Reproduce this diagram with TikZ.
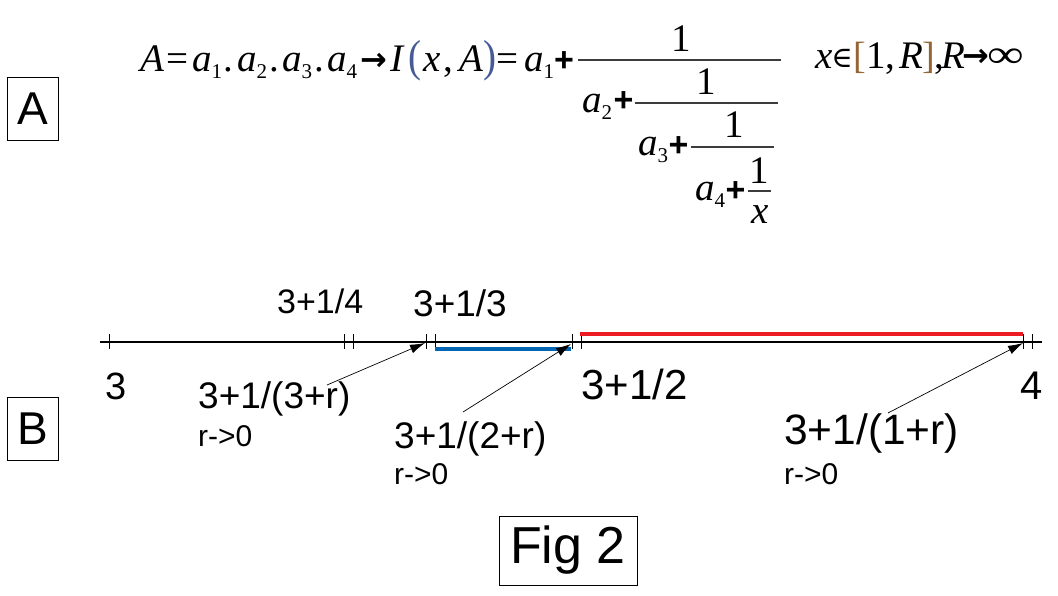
\documentclass[tikz,border=0pt]{standalone}
\usepackage{fontspec}
\usepackage{graphicx}
\setmainfont{Liberation Sans}
\newfontfamily\eqf{Liberation Serif}
\newfontfamily\symf{DejaVu Sans}
\newfontfamily\symserif{DejaVu Serif}
\usetikzlibrary{arrows.meta}
\definecolor{nlred}{RGB}{237,28,36}
\definecolor{nlblue}{RGB}{0,102,179}
\definecolor{parcol}{RGB}{70,90,150}
\definecolor{brkcol}{RGB}{150,100,50}
\definecolor{barcol}{RGB}{60,60,60}
\newcommand{\fsz}[1]{\fontsize{#1}{#1}\selectfont}
\newcommand{\asub}[1]{{\itshape a}\raisebox{-7pt}{\fsz{21}#1}}
\begin{document}
\begin{tikzpicture}[x=1pt,y=-1pt,
  eq/.style={inner sep=0pt, anchor=base west, font={\eqf\fsz{39}}},
  eqc/.style={inner sep=0pt, anchor=base, font={\eqf\fsz{39}}},
  paren/.style={inner sep=0pt, anchor=base west, font={\eqf\fsz{39}}, text=parcol},
  brk/.style={inner sep=0pt, anchor=base west, font={\eqf\fsz{38}}, text=brkcol},
  op/.style={inner sep=0pt, anchor=center, font={\fsz{34}\bfseries}},
  arr/.style={inner sep=0pt, anchor=center, font={\symf\bfseries\fsz{32}}},
  elem/.style={inner sep=0pt, anchor=center, font={\symserif\fsz{29}}},
  fbar/.style={draw=barcol, line width=1.3pt},
  boxlab/.style={draw, line width=0.9pt, inner sep=0pt, font={\fsz{46}}, minimum width=51pt, minimum height=63pt},
  lab/.style={inner sep=0pt, anchor=base west},
  nl/.style={line width=1.2pt},
  tickm/.style={line width=0.9pt},
  seg/.style={line width=3.2pt},
  pointer/.style={line width=0.7pt, -{Latex[length=15pt,width=9pt]}}
]
\useasboundingbox (0,0) rectangle (1058,595);

% boxes
\node[boxlab] (boxA) at (32.5,108.5) {A};
\node[boxlab] (boxB) at (32.5,428.5) {B};
\node[draw, line width=0.9pt, inner sep=0pt, minimum width=138pt, minimum height=69pt, font={\fsz{52}}] (fig) at (568,550.5) {Fig 2};

% equation, main line
\node[eq] (eA) at (140,71) {\itshape A};
\node[eq] (eq1) at (166,71) {=};
\node[eq] (ea1) at (192,71) {\asub{1}};
\node[eq] (d1) at (223,71) {.};
\node[eq] (ea2) at (237,71) {\asub{2}};
\node[eq] (d2) at (269,71) {.};
\node[eq] (ea3) at (282,71) {\asub{3}};
\node[eq] (d3) at (314,71) {.};
\node[eq] (ea4) at (327,71) {\asub{4}};
\node[arr] (ar1) at (373.5,62) {\makebox[22pt]{→}};
\node[eq] (eI) at (390,71) {\itshape I};
\node[paren] (lp) at (408,71) {\scalebox{1}[1.15]{(}};
\node[eq] (ex) at (423,71) {\itshape x};
\node[eq] (cm1) at (443,71) {,};
\node[eq] (eA2) at (459,71) {\itshape A};
\node[paren] (rp) at (483,71) {\scalebox{1}[1.15]{)}};
\node[eq] (eq2) at (496,71) {=};
\node[eq] (eb1) at (524,71) {\asub{1}};
\node[op] (p1) at (564,62) {+};

% continued fraction
\draw[fbar] (578,60) -- (781,60);
\node[eqc] (n1) at (681.5,51) {1};
\node[eq] (fa2) at (582,112) {\asub{2}};
\node[op] (p2) at (623.5,102) {+};
\draw[fbar] (635,103) -- (778,103);
\node[eqc] (n2) at (706.5,94) {1};
\node[eq] (fa3) at (638,155) {\asub{3}};
\node[op] (p3) at (678.5,147) {+};
\draw[fbar] (691,147) -- (774,147);
\node[eqc] (n3) at (734,137) {1};
\node[eq] (fa4) at (695,200) {\asub{4}};
\node[op] (p4) at (735.5,192) {+};
\draw[fbar] (748,191) -- (771,191);
\node[eqc] (n4) at (759,183) {1};
\node[eqc] (dx) at (760.5,223) {\itshape x};

% right part
\node[eq] (rx) at (815,68) {\itshape x};
\node[elem] (in) at (842,58) {\makebox[15pt]{∈}};
\node[brk] (lb) at (853,68) {[};
\node[eq] (r1) at (866,68) {1};
\node[eq] (cm2) at (885,68) {,};
\node[eq] (rR1) at (899,68) {\itshape R};
\node[brk] (rb) at (922,68) {]};
\node[eq] (cm3) at (934.5,68) {,};
\node[eq] (rR2) at (941,68) {\itshape R};
\node[arr] (ar2) at (976,58) {\makebox[22pt]{→}};
\node[inner sep=0pt, anchor=center, font={\eqf\fsz{39}}] (inf) at (1006,58.5) {\scalebox{1.32}[1]{∞}};

% number line
\draw[nl] (100,342) -- (1042,342);
\foreach \t in {109,344,353,426,435,572,581,1023,1032}
  \draw[tickm] (\t,334) -- (\t,349);
\draw[seg, nlblue] (435,349) -- (571,349);
\draw[seg, nlred] (580,334) -- (1023,334);

% number line labels
\node[lab, font={\fsz{34}}] (l314) at (277,313) {3+1/4};
\node[lab, font={\fsz{37}}] (l313) at (413,316) {3+1/3};
\node[lab, font={\fsz{38}}] (l3) at (105,399) {3};
\node[lab, font={\fsz{42}}] (l312) at (581,399) {3+1/2};
\node[lab, font={\fsz{40}}] (l4) at (1020,399) {4};

% limit labels
\node[lab, font={\fsz{37}}] (q1) at (198,408) {3+1/(3+r)};
\node[lab, font={\fsz{30}}] (r1l) at (198,446) {r->0};
\node[lab, font={\fsz{37}}] (q2) at (394,448) {3+1/(2+r)};
\node[lab, font={\fsz{30}}] (r2l) at (394,484) {r->0};
\node[lab, font={\fsz{42.5}}] (q3) at (784,444) {3+1/(1+r)};
\node[lab, font={\fsz{30}}] (r3l) at (784,484) {r->0};

% pointers
\coordinate (s1) at (327,385);
\coordinate (t1) at (425,343);
\coordinate (s2) at (463,412);
\coordinate (t2) at (571,344);
\coordinate (s3) at (888,413);
\coordinate (t3) at (1023,343);
\draw[pointer] (s1) -- (t1);
\draw[pointer] (s2) -- (t2);
\draw[pointer] (s3) -- (t3);
\end{tikzpicture}
\end{document}
